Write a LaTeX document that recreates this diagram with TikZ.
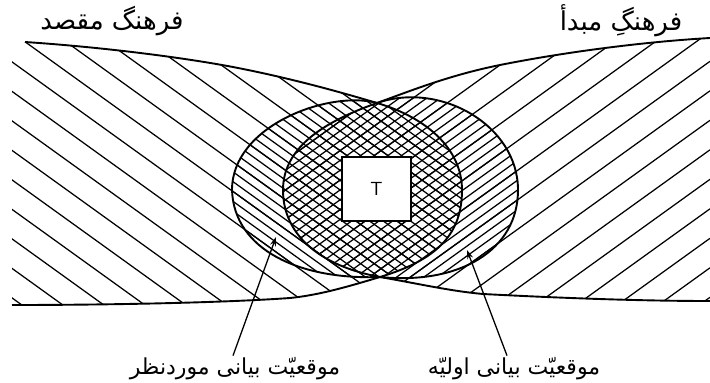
\documentclass[tikz,border=0pt]{standalone}
\usepackage{fontspec}
\newfontfamily\farsi[Script=Arabic]{DejaVu Sans}
\TeXXeTstate=1
\usetikzlibrary{arrows.meta}

% outline pieces (pixel units, y down)
\newcommand\leftedge{(25,42) .. controls (100,47) and (180,57) .. (233,67) .. controls (290,78) and (340,92) .. (top) .. controls (425,117) and (462,148) .. (462,190) .. controls (462,232) and (440,259) .. (bot) .. controls (350,286) and (320,295) .. (290,298) .. controls (220,303) and (100,305) .. (12,305)}
\newcommand\rightedge{(710,38) .. controls (640,42) and (560,53) .. (500,65) .. controls (450,75) and (410,91) .. (top) .. controls (329,120) and (283,145) .. (283,190) .. controls (283,235) and (320,266) .. (bot) .. controls (420,284) and (450,291) .. (483,294) .. controls (560,298) and (640,301) .. (710,301)}
\newcommand\leftsit{(top) .. controls (330,90) and (232,125) .. (232,190) .. controls (234,250) and (300,280) .. (bot)}
\newcommand\rightsit{(top) .. controls (440,81) and (518,125) .. (518,190) .. controls (518,250) and (460,285) .. (bot)}

\begin{document}
\begin{tikzpicture}[
	x=1pt, y=-1pt,
	line/.style = {line width=1.9pt, line join=round},
	hatch/.style = {line width=1.25pt},
	arr/.style = {line width=1.3pt, -{Stealth[length=9pt, width=6pt]}},
	lbl/.style = {font=\farsi\fontsize{22}{26}\selectfont, inner sep=0pt},
	big/.style = {lbl, font=\farsi\fontsize{26}{30}\selectfont},
	box/.style = {rectangle, draw, line width=1.9pt, fill=white, minimum width=69, minimum height=64, font=\sffamily\fontsize{19}{19}\selectfont}
	]
	\useasboundingbox (0,0) rectangle (710,383);
	
	\coordinate (top) at (377,103);
	\coordinate (bot) at (380,277);
	
	% ===== ===== ===== ===== =====
	
	% Hatching
	\begin{scope}
		\clip \leftedge -- (12,60) -- cycle;
		\foreach \k in {-18,...,13}
			\draw[hatch] (0,{23.75+29.5*\k}) -- ++(710,511.2);
	\end{scope}
	\begin{scope}
		\clip \rightedge -- cycle;
		\foreach \k in {-21,...,10}
			\draw[hatch] (0,{602+29.5*\k}) -- ++(710,-511.2);
	\end{scope}
	\begin{scope}
		\clip \leftsit .. controls (440,259) and (462,232) .. (462,190) .. controls (462,148) and (425,117) .. (top) -- cycle;
		\foreach \k in {-54,...,40}
			\draw[hatch] (0,{23.75+9.8333*\k}) -- ++(710,511.2);
	\end{scope}
	\begin{scope}
		\clip \rightsit .. controls (320,266) and (283,235) .. (283,190) .. controls (283,145) and (329,120) .. (top) -- cycle;
		\foreach \k in {-63,...,30}
			\draw[hatch] (0,{602+9.8333*\k}) -- ++(710,-511.2);
	\end{scope}
	
	% ===== ===== ===== ===== =====
	
	% Lines
	\draw[line] \leftedge;
	\draw[line] \rightedge;
	\draw[line] \leftsit;
	\draw[line] \rightsit;
	
	% Nodes
	\node[box]	(tbox)	at	(376.5,189)	{T};
	
	\node[big]	(tgt)	at	(112,21)	{\beginR فرهنگ مقصد\endR};
	\node[big]	(src)	at	(621,21)	{\beginR فرهنگِ مبدأ\endR};
	\node[lbl]	(lblL)	at	(235,369)	{\beginR موقعیّت بیانی موردنظر\endR};
	\node[lbl]	(lblR)	at	(514,369)	{\beginR موقعیّت بیانی اولیّه\endR};
	
	\coordinate (tipL) at (276,237);
	\coordinate (tipR) at (467,250);
	
	% Arrows
	\draw[arr]	(lblL.north)	++(-2,-2)	--	(tipL);
	\draw[arr]	(lblR.north)	++(-7,-2)	--	(tipR);
	
\end{tikzpicture}
\end{document}
